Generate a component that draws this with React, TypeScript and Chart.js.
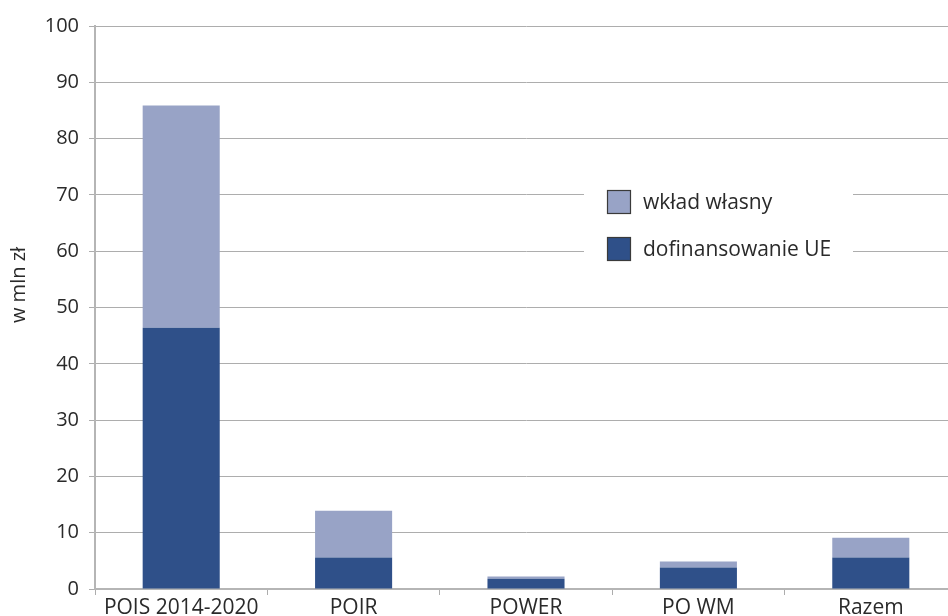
import React, { useEffect, useRef } from "react";
import { Chart, registerables } from "chart.js";

Chart.register(...registerables);

const categories = ["POIS 2014-2020", "POIR", "POWER", "PO WM", "Razem"];
const dofinansowanieUE = [46.4, 5.6, 1.8, 3.8, 5.6];
const wkladWlasny = [39.5, 8.3, 0.4, 1.1, 3.5];
const yTicks = [0, 10, 20, 30, 40, 50, 60, 70, 80, 90, 100];
const seriesNames = ["dofinansowanie UE", "wkład własny"];
const yTitle = "w mln zł";

const DARK = "#2F5089";
const LIGHT = "#98A3C6";
const GRID = "#ADADAD";
const TEXT = "#2a2a2a";
const FONT = "'Open Sans', 'Noto Sans', sans-serif";

const legendPlugin = {
  id: "insideLegend",
  afterDraw(chart: any) {
    const ctx = chart.ctx;
    ctx.save();
    ctx.fillStyle = "#ffffff";
    ctx.fillRect(584, 170, 269, 110);
    const items = [
      { label: chart.data.datasets[1].label, color: chart.data.datasets[1].backgroundColor, y: 202 },
      { label: chart.data.datasets[0].label, color: chart.data.datasets[0].backgroundColor, y: 249 },
    ];
    ctx.font = "21px " + FONT;
    ctx.textBaseline = "middle";
    ctx.textAlign = "left";
    for (const it of items) {
      ctx.fillStyle = it.color;
      ctx.fillRect(607.5, it.y - 11.5, 23, 23);
      ctx.strokeStyle = "#3a3a3a";
      ctx.lineWidth = 1.2;
      ctx.strokeRect(607.5, it.y - 11.5, 23, 23);
      ctx.fillStyle = TEXT;
      ctx.fillText(it.label, 643, it.y + 1);
    }
    // y-axis title
    ctx.translate(19, 285);
    ctx.rotate(-Math.PI / 2);
    ctx.textAlign = "center";
    ctx.textBaseline = "middle";
    ctx.font = "20px " + FONT;
    ctx.fillStyle = TEXT;
    ctx.fillText(yTitle, 0, 0);
    ctx.restore();
  },
};

export default function App() {
  const ref = useRef<HTMLCanvasElement | null>(null);
  useEffect(() => {
    if (!ref.current) return;
    const chart = new Chart(ref.current, {
      type: "bar",
      data: {
        labels: categories,
        datasets: [
          { label: seriesNames[0], data: dofinansowanieUE, backgroundColor: DARK, borderWidth: 0 },
          { label: seriesNames[1], data: wkladWlasny, backgroundColor: LIGHT, borderWidth: 0 },
        ],
      },
      options: {
        responsive: false,
        animation: false,
        maintainAspectRatio: false,
        layout: { padding: { top: 26, right: 3, left: 0, bottom: 0 } },
        datasets: { bar: { categoryPercentage: 1, barPercentage: 0.447 } },
        plugins: { legend: { display: false }, tooltip: { enabled: false } },
        scales: {
          x: {
            stacked: true,
            offset: true,
            grid: {
              offset: true,
              drawOnChartArea: false,
              drawTicks: true,
              tickLength: 6,
              color: GRID,
            },
            border: { display: true, color: "#B5B5B5", width: 2 },
            ticks: { color: TEXT, font: { family: FONT, size: 21 }, padding: 0, maxRotation: 0, autoSkip: false },
            afterFit(scale: any) {
              scale.height = 27;
            },
          },
          y: {
            stacked: true,
            min: 0,
            max: 100,
            afterBuildTicks(scale: any) {
              scale.ticks = yTicks.map((v) => ({ value: v }));
            },
            grid: { color: GRID, lineWidth: 1, tickLength: 6, drawTicks: true },
            border: { display: true, color: "#B5B5B5", width: 2 },
            ticks: { color: TEXT, font: { family: FONT, size: 20 }, padding: 10 },
            afterFit(scale: any) {
              scale.width = 95;
            },
          },
        },
      },
      plugins: [legendPlugin],
    });
    return () => chart.destroy();
  }, []);
  return (
    <div style={{ position: "absolute", left: 0, top: 0, width: 948, height: 616, overflow: "hidden", background: "#fff" }}>
      <canvas ref={ref} width={960} height={616} style={{ width: 960, height: 616, display: "block" }} />
    </div>
  );
}
